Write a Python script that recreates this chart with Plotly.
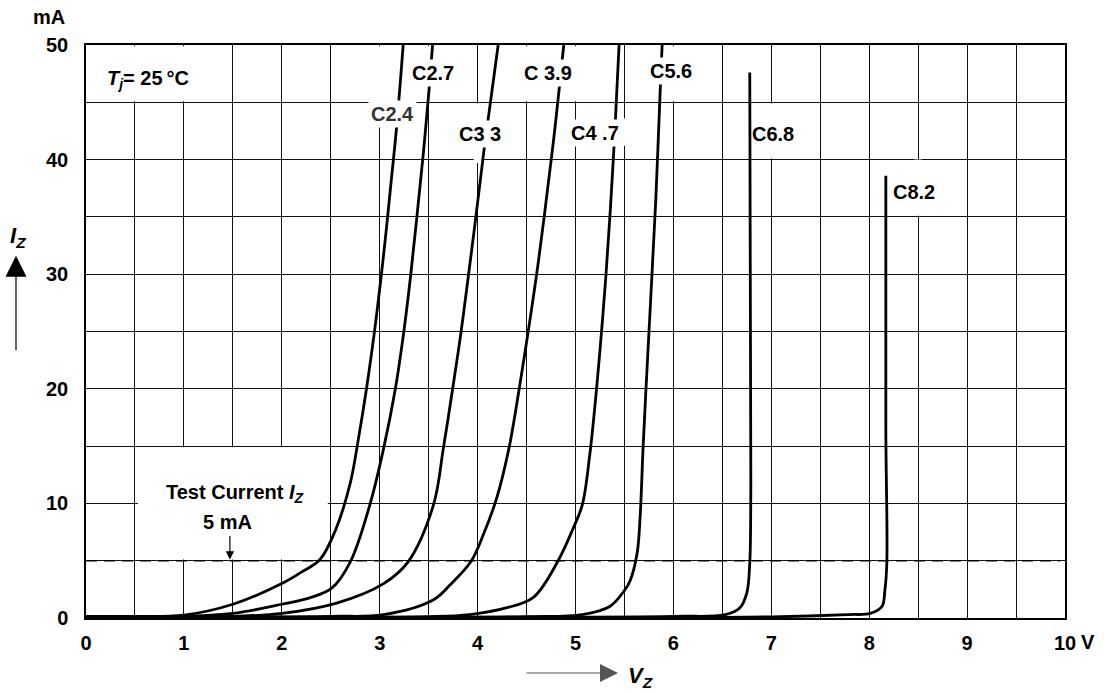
import plotly.graph_objects as go

# ---- data (V in volts, I in mA) ----
V_C24 = [0, 0.5, 1.0, 1.5, 2.0, 2.2, 2.39, 2.55, 2.70, 2.78, 2.865, 2.945, 3.015, 3.065, 3.11, 3.17, 3.24]
I_C24 = [0.1, 0.12, 0.25, 1.2, 3.0, 4.0, 5.1, 7.7, 11.8, 15.5, 20, 24.9, 29.8, 33.7, 37.5, 42.6, 50]

V_C27 = [0, 1.0, 1.5, 2.0, 2.3, 2.51, 2.70, 2.90, 3.04, 3.16, 3.245, 3.315, 3.38, 3.445, 3.505, 3.54]
I_C27 = [0.1, 0.15, 0.4, 1.2, 1.8, 2.6, 4.9, 9.9, 14.8, 20, 24.9, 29.8, 35, 40.5, 46.2, 50]

V_C33 = [0, 1.5, 2.0, 2.56, 3.04, 3.29, 3.55, 3.65, 3.745, 3.83, 3.905, 3.975, 4.065, 4.12, 4.21]
I_C33 = [0.1, 0.15, 0.4, 1.3, 3.0, 4.9, 9.9, 14.8, 20, 24.9, 29.8, 34.5, 40.8, 44.3, 50]

V_C39 = [0, 2.5, 3.04, 3.55, 3.72, 3.93, 4.06, 4.20, 4.32, 4.425, 4.515, 4.60, 4.68, 4.78, 4.88]
I_C39 = [0.1, 0.15, 0.3, 1.6, 2.9, 4.9, 7.3, 10.6, 14.8, 20, 24.9, 29.8, 35, 42, 50]

V_C47 = [0, 3.5, 3.92, 4.3, 4.57, 4.81, 4.97, 5.07, 5.145, 5.215, 5.265, 5.31, 5.355, 5.405, 5.445]
I_C47 = [0.1, 0.12, 0.3, 0.9, 1.8, 4.8, 7.7, 9.9, 14.2, 20, 24.9, 29.8, 35.5, 43, 50]

V_C56 = [0, 4.5, 5.07, 5.35, 5.5, 5.56, 5.63, 5.66, 5.69, 5.72, 5.75, 5.78, 5.82, 5.865, 5.885]
I_C56 = [0.1, 0.12, 0.3, 1.0, 2.4, 3.3, 5.7, 8.8, 14.8, 20, 24.9, 29.8, 36.5, 46, 50]

V_C68 = [0, 6.0, 6.53, 6.68, 6.75, 6.78, 6.79, 6.79, 6.78]
I_C68 = [0.1, 0.15, 0.3, 0.9, 2.2, 4.8, 10, 15, 47.6]

V_C82 = [0, 7.0, 7.8, 8.01, 8.13, 8.16, 8.18, 8.17, 8.17]
I_C82 = [0.1, 0.1, 0.3, 0.4, 1.0, 2.4, 4.8, 16.4, 38.6]

curve_names = ["C2.4", "C2.7", "C3.3", "C3.9", "C4.7", "C5.6", "C6.8", "C8.2"]
curve_v = [V_C24, V_C27, V_C33, V_C39, V_C47, V_C56, V_C68, V_C82]
curve_i = [I_C24, I_C27, I_C33, I_C39, I_C47, I_C56, I_C68, I_C82]

# curve labels as printed
label_text = ["C2.4", "C2.7", "C3 3", "C 3.9", "C4 .7", "C5.6", "C6.8", "C8.2"]

x_tick_vals = [0, 0.5, 1, 1.5, 2, 2.5, 3, 3.5, 4, 4.5, 5, 5.5, 6, 6.5, 7, 7.5, 8, 8.5, 9, 9.5, 10]
x_tick_text = ["0", "", "1", "", "2", "", "3", "", "4", "", "5", "", "6", "", "7", "", "8", "", "9", "", "10"]
y_tick_vals = [0, 5, 10, 15, 20, 25, 30, 35, 40, 45, 50]
y_tick_text = ["0", "", "10", "", "20", "", "30", "", "40", "", "50"]

TEST_CURRENT = 5
TEST_LINE_V = [0, 9.95]

FONT = "Liberation Sans, Arial, sans-serif"

fig = go.Figure()
# dashed test-current line
fig.add_trace(go.Scatter(
    x=TEST_LINE_V, y=[TEST_CURRENT] * len(TEST_LINE_V), mode="lines", showlegend=False,
    hoverinfo="skip", line=dict(color="black", width=1.4, dash="11px,7px"),
))
for name, v, i in zip(curve_names, curve_v, curve_i):
    fig.add_trace(go.Scatter(
        x=v, y=i, mode="lines", name=name, showlegend=False, hoverinfo="skip",
        line=dict(color="black", width=2.8, shape="spline", smoothing=1.0),
    ))

shapes = []
# white patches where the printed grid is interrupted
def patch(x0, x1, y0, y1):
    shapes.append(dict(type="rect", xref="x", yref="y", x0=x0, x1=x1, y0=y0, y1=y1,
                       fillcolor="white", line=dict(width=0), layer="between"))

patch(0.02, 1.45, 45.1, 49.9)       # T_j box
patch(0.53, 2.47, 5.1, 14.9)        # test current box
gap_w = 0.04
for gx, gy0, gy1 in [(3.0, 43.5, 49.9), (3.5, 46.2, 49.9), (4.0, 39.7, 44.9), (4.5, 45.1, 49.9),
                     (5.0, 45.1, 49.9), (5.5, 41.2, 43.6), (6.0, 45.1, 49.9), (7.0, 40.1, 44.9),
                     (8.5, 35.1, 40.0)]:
    patch(gx - gap_w, gx + gap_w, gy0, gy1)

BOLD20 = dict(family=FONT, size=20, color="black", weight="bold")

annotations = []
label_pos = [(3.13, 44.0, True), (3.545, 47.6, True), (4.02, 42.2, True), (4.72, 47.6, True),
             (5.20, 42.3, True), (5.98, 47.7, True), (7.02, 42.2, False), (8.46, 37.2, False)]
for txt, (lx, ly, bg) in zip(label_text, label_pos):
    annotations.append(dict(
        x=lx, y=ly, xref="x", yref="y", text=txt, showarrow=False,
        xanchor="center", yanchor="middle",
        font=dict(family=FONT, size=20, color="#333" if txt == "C2.4" else "black", weight="bold"),
        bgcolor="white" if bg else "rgba(0,0,0,0)", borderpad=2,
    ))

def note(x, y, text, ref="data", size=20, **kw):
    d = dict(x=x, y=y, xref="x" if ref == "data" else "paper", yref="y" if ref == "data" else "paper",
             text=text, showarrow=False, xanchor="center", yanchor="middle",
             font=dict(family=FONT, size=size, color="black", weight="bold"))
    d.update(kw)
    return d

annotations += [
    note(0.63, 47.0, "<i>T<sub>j</sub></i>= 25\u2009°C"),
    note(1.52, 10.9, "Test Current <i>I<sub>Z</sub></i>"),
    note(1.445, 8.4, "5 mA"),
    dict(x=1.47, y=5.1, xref="x", yref="y", ax=0, ay=-25, text="", showarrow=True,
         arrowhead=2, arrowsize=1.4, arrowwidth=1.2, arrowcolor="black"),
    # unit labels
    note(-0.0378, 1.049, "mA", ref="paper"),
    note(1.0235, -0.042, "V", ref="paper"),
    # axis quantity labels with arrows
    note(-0.0695, 0.665, "<i>I<sub>Z</sub></i>", ref="paper", size=22),
    dict(x=-0.0715, y=0.632, xref="paper", yref="paper", ax=0, ay=96, text="", showarrow=True,
         arrowhead=2, arrowsize=3.5, arrowwidth=1.2, arrowcolor="black"),
    dict(x=0.5434, y=-0.096, xref="paper", yref="paper", ax=-93, ay=0, text="", showarrow=True,
         arrowhead=2, arrowsize=3, arrowwidth=1.2, arrowcolor="#555"),
    note(0.566, -0.103, "<i>V<sub>Z</sub></i>", ref="paper", size=22),
]

fig.update_layout(
    width=1105, height=693,
    margin=dict(l=86, r=40, t=45, b=75),
    plot_bgcolor="white", paper_bgcolor="white",
    shapes=shapes, annotations=annotations,
    xaxis=dict(range=[0, 10], tickvals=x_tick_vals, ticktext=x_tick_text,
               showgrid=True, gridcolor="#111", gridwidth=1, zeroline=False,
               showline=True, linecolor="black", linewidth=1.5, mirror=True,
               ticks="", ticklabelstandoff=6, tickfont=BOLD20),
    yaxis=dict(range=[0, 50], tickvals=y_tick_vals, ticktext=y_tick_text,
               showgrid=True, gridcolor="#111", gridwidth=1, zeroline=False,
               showline=True, linecolor="black", linewidth=1.5, mirror=True,
               ticks="", ticklabelstandoff=12, tickfont=BOLD20),
)

fig.write_html("out.html", config={"displayModeBar": False},
               post_script="document.body.style.margin='0';document.body.style.overflow='hidden';")
